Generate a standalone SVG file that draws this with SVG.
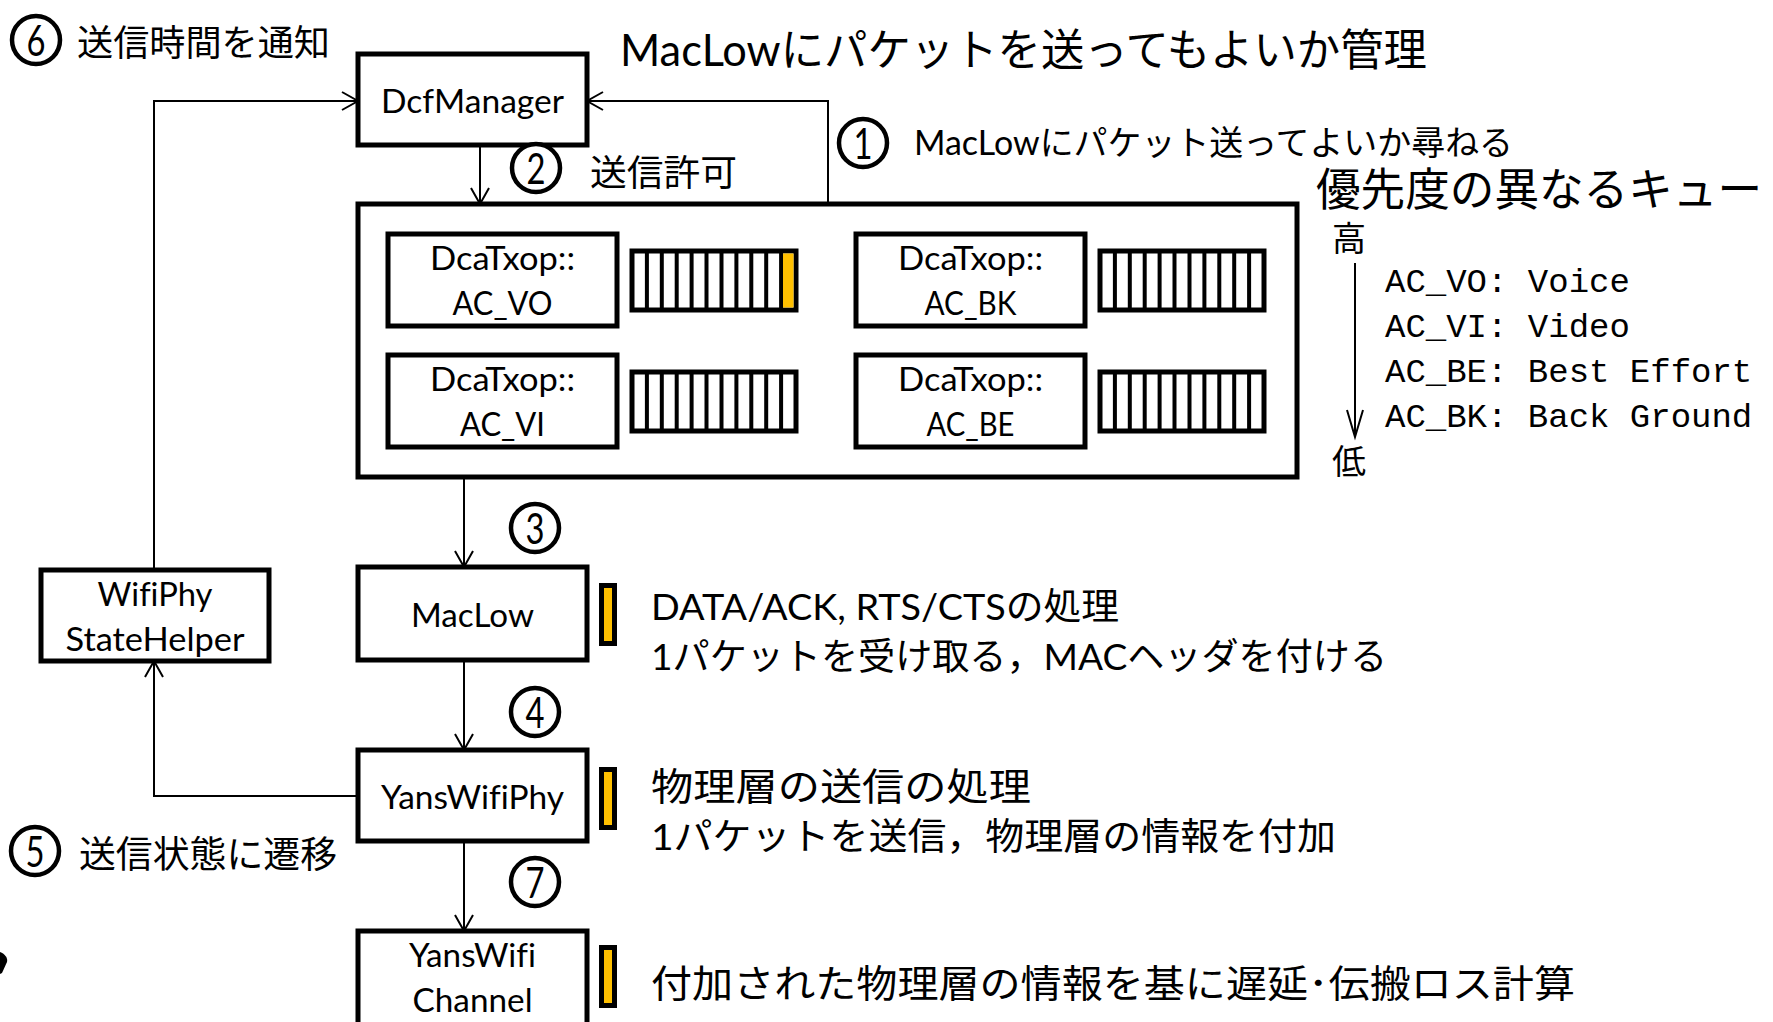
<svg xmlns="http://www.w3.org/2000/svg" width="1773" height="1022" viewBox="0 0 1773 1022">
<style>
text{font-variant-ligatures:none;font-feature-settings:"liga" 0}
.box{fill:#fff;stroke:#000;stroke-width:5}
.lbl{font-family:Lato,"Noto Sans CJK JP",sans-serif;font-size:33px;fill:#000;text-anchor:middle}
.jp{font-family:Lato,"Noto Sans CJK JP",sans-serif;fill:#000}
.mono{font-family:"Liberation Mono","DejaVu Sans Mono",monospace;font-size:34px;fill:#000}
.ln{fill:none;stroke:#000;stroke-width:2}
.num{fill:#fff;stroke:#000;stroke-width:4.5}
.dig{font-family:Lato,sans-serif;font-size:43px;fill:#000;text-anchor:middle}
.bar{fill:#FFC000;stroke:#000;stroke-width:5}
.q{fill:#fff;stroke:#000;stroke-width:5}
.qd{stroke:#000;stroke-width:4}
</style>
<defs>
<g id="queue">
<rect class="q" x="0" y="0" width="164" height="59"/>
<path class="qd" d="M14.9 0V59M29.8 0V59M44.7 0V59M59.6 0V59M74.5 0V59M89.5 0V59M104.4 0V59M119.3 0V59M134.2 0V59M149.1 0V59"/>
</g>
</defs>
<rect width="1773" height="1022" fill="#fff"/>

<!-- connectors -->
<g id="connectors">
<path class="ln" d="M154 661V796H358"/>
<path class="ln" d="M145 677L154 661L163 677"/>
<path class="ln" d="M154 570V101H358"/>
<path class="ln" d="M342 92L358 101L342 110"/>
<path class="ln" d="M828 204V101H587"/>
<path class="ln" d="M603 92L587 101L603 110"/>
<path class="ln" d="M480 145V204"/>
<path class="ln" d="M471 188L480 204L489 188"/>
<path class="ln" d="M464 477V567"/>
<path class="ln" d="M455 551L464 567L473 551"/>
<path class="ln" d="M464 660V750"/>
<path class="ln" d="M455 734L464 750L473 734"/>
<path class="ln" d="M464 841V931"/>
<path class="ln" d="M455 915L464 931L473 915"/>
<path class="ln" d="M1355 263V437"/>
<path class="ln" d="M1347 410L1355 437L1363 410"/>
</g>

<!-- nodes -->
<g id="DcfManager">
<rect class="box" x="358" y="54" width="229" height="91"/>
<text class="lbl" x="472.5" y="113" textLength="183" lengthAdjust="spacingAndGlyphs">DcfManager</text>
</g>

<g id="EdcaContainer">
<rect class="box" x="358" y="204" width="939" height="273"/>
</g>

<g id="DcaTxop_AC_VO">
<rect class="box" x="388" y="234" width="229" height="92"/>
<text class="lbl" x="502.5" y="270" textLength="145" lengthAdjust="spacingAndGlyphs">DcaTxop::</text>
<text class="lbl" x="502.5" y="315" textLength="100" lengthAdjust="spacingAndGlyphs">AC_VO</text>
<use href="#queue" x="632" y="251"/>
<rect x="783" y="253.5" width="10.5" height="54" fill="#FFC000"/>
</g>

<g id="DcaTxop_AC_VI">
<rect class="box" x="388" y="355" width="229" height="92"/>
<text class="lbl" x="502.5" y="391" textLength="145" lengthAdjust="spacingAndGlyphs">DcaTxop::</text>
<text class="lbl" x="502.5" y="436" textLength="85" lengthAdjust="spacingAndGlyphs">AC_VI</text>
<use href="#queue" x="632" y="372"/>
</g>

<g id="DcaTxop_AC_BK">
<rect class="box" x="856" y="234" width="229" height="92"/>
<text class="lbl" x="970.5" y="270" textLength="145" lengthAdjust="spacingAndGlyphs">DcaTxop::</text>
<text class="lbl" x="970.5" y="315" textLength="92" lengthAdjust="spacingAndGlyphs">AC_BK</text>
<use href="#queue" x="1100" y="251"/>
</g>

<g id="DcaTxop_AC_BE">
<rect class="box" x="856" y="355" width="229" height="92"/>
<text class="lbl" x="970.5" y="391" textLength="145" lengthAdjust="spacingAndGlyphs">DcaTxop::</text>
<text class="lbl" x="970.5" y="436" textLength="88" lengthAdjust="spacingAndGlyphs">AC_BE</text>
<use href="#queue" x="1100" y="372"/>
</g>

<g id="WifiPhyStateHelper">
<rect class="box" x="41" y="570" width="228" height="91"/>
<text class="lbl" x="155" y="606" textLength="115" lengthAdjust="spacingAndGlyphs">WifiPhy</text>
<text class="lbl" x="155" y="651" textLength="179" lengthAdjust="spacingAndGlyphs">StateHelper</text>
</g>

<g id="MacLow">
<rect class="box" x="358" y="567" width="229" height="93"/>
<text class="lbl" x="472.5" y="627" textLength="123" lengthAdjust="spacingAndGlyphs">MacLow</text>
<rect class="bar" x="601.5" y="585.5" width="13" height="58"/>
</g>

<g id="YansWifiPhy">
<rect class="box" x="358" y="750" width="229" height="91"/>
<text class="lbl" x="472.5" y="809" textLength="183" lengthAdjust="spacingAndGlyphs">YansWifiPhy</text>
<rect class="bar" x="601.5" y="769.5" width="13" height="58"/>
</g>

<g id="YansWifiChannel">
<rect class="box" x="358" y="931" width="229" height="100"/>
<text class="lbl" x="472.5" y="967" textLength="127" lengthAdjust="spacingAndGlyphs">YansWifi</text>
<text class="lbl" x="472.5" y="1012" textLength="120" lengthAdjust="spacingAndGlyphs">Channel</text>
<rect class="bar" x="601.5" y="947.5" width="13" height="58"/>
</g>

<!-- step numbers and labels -->
<g id="step6">
<circle class="num" cx="36" cy="40" r="24"/>
<text class="dig" x="36" y="55.5" textLength="19" lengthAdjust="spacingAndGlyphs">6</text>
<text class="jp" x="77" y="56" font-size="36" textLength="253" lengthAdjust="spacingAndGlyphs">送信時間を通知</text>
</g>
<g id="title">
<text class="jp" x="620" y="66" font-size="44" textLength="807" lengthAdjust="spacingAndGlyphs">MacLowにパケットを送ってもよいか管理</text>
</g>
<g id="step1">
<circle class="num" cx="863" cy="143" r="24"/>
<text class="dig" x="863" y="158.5" textLength="19" lengthAdjust="spacingAndGlyphs">1</text>
<text class="jp" x="914" y="155" font-size="34" textLength="599" lengthAdjust="spacingAndGlyphs">MacLowにパケット送ってよいか尋ねる</text>
</g>
<g id="step2">
<circle class="num" cx="536" cy="168" r="24"/>
<text class="dig" x="536" y="183.5" textLength="19" lengthAdjust="spacingAndGlyphs">2</text>
<text class="jp" x="590" y="186" font-size="36" textLength="147" lengthAdjust="spacingAndGlyphs">送信許可</text>
</g>
<g id="step3">
<circle class="num" cx="535" cy="528" r="24"/>
<text class="dig" x="535" y="543.5" textLength="19" lengthAdjust="spacingAndGlyphs">3</text>
</g>
<g id="step4">
<circle class="num" cx="535" cy="712" r="24"/>
<text class="dig" x="535" y="727.5" textLength="19" lengthAdjust="spacingAndGlyphs">4</text>
</g>
<g id="step5">
<circle class="num" cx="35" cy="851" r="24"/>
<text class="dig" x="35" y="866.5" textLength="19" lengthAdjust="spacingAndGlyphs">5</text>
<text class="jp" x="79" y="868" font-size="37" textLength="258" lengthAdjust="spacingAndGlyphs">送信状態に遷移</text>
</g>
<g id="step7">
<circle class="num" cx="535" cy="882" r="24"/>
<text class="dig" x="535" y="897.5" textLength="19" lengthAdjust="spacingAndGlyphs">7</text>
</g>

<!-- legend -->
<g id="legend">
<text class="jp" x="1316" y="206" font-size="45" textLength="446" lengthAdjust="spacingAndGlyphs">優先度の異なるキュー</text>
<text class="jp" x="1332" y="251" font-size="34">高</text>
<text class="jp" x="1332" y="474" font-size="34">低</text>
<text class="mono" x="1385" y="292">AC_VO: Voice</text>
<text class="mono" x="1385" y="337">AC_VI: Video</text>
<text class="mono" x="1385" y="382">AC_BE: Best Effort</text>
<text class="mono" x="1385" y="427">AC_BK: Back Ground</text>
</g>

<!-- descriptions -->
<g id="descriptions">
<text class="jp" x="651" y="620" font-size="37" textLength="468" lengthAdjust="spacingAndGlyphs">DATA/ACK, RTS/CTSの処理</text>
<text class="jp" x="651" y="670" font-size="37" textLength="736" lengthAdjust="spacingAndGlyphs">1パケットを受け取る，MACヘッダを付ける</text>
<text class="jp" x="651" y="800" font-size="38" textLength="380" lengthAdjust="spacingAndGlyphs">物理層の送信の処理</text>
<text class="jp" x="651" y="850" font-size="37" textLength="685" lengthAdjust="spacingAndGlyphs">1パケットを送信，物理層の情報を付加</text>
<text class="jp" x="651" y="997" font-size="38" textLength="924" lengthAdjust="spacingAndGlyphs">付加された物理層の情報を基に遅延･伝搬ロス計算</text>
</g>

<path d="M0 952C5 954 8 958 7 962L2 973L0 974Z" fill="#000"/>
</svg>
